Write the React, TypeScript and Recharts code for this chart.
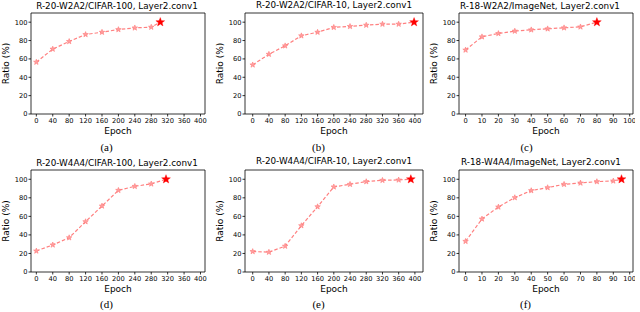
import React from 'react';
import { LineChart, Line, XAxis, YAxis, ReferenceArea, Label } from 'recharts';

const epochsA = [0, 40, 80, 120, 160, 200, 240, 280, 302];
const ratioA = [56.5, 70.7, 79, 86.6, 89.1, 92, 93.8, 94.6, 100];
const epochsB = [0, 40, 80, 120, 160, 200, 240, 280, 320, 360, 398];
const ratioB = [53.5, 65.1, 74.3, 85.2, 89.1, 94.4, 95.4, 96.8, 97.9, 97.9, 100];
const epochsC = [0, 10, 20, 30, 40, 50, 60, 70, 80];
const ratioC = [69.7, 84.1, 87.7, 90.3, 91.7, 92.8, 93.9, 94.9, 100];
const epochsD = [0, 40, 80, 120, 160, 200, 240, 280, 316];
const ratioD = [22.7, 29.2, 37, 54.3, 71.2, 88.1, 92.4, 95, 100];
const epochsE = [0, 40, 80, 120, 160, 200, 240, 280, 320, 360, 390];
const ratioE = [22.1, 21.4, 27.9, 50, 70.4, 91.8, 94.6, 97.5, 98.9, 99.3, 100];
const epochsF = [0, 10, 20, 30, 40, 50, 60, 70, 80, 90, 95];
const ratioF = [33.1, 57.2, 70.1, 80.2, 87.8, 91, 94.6, 96, 97.5, 98.2, 100];

const titles = [
  'R-20-W2A2/CIFAR-100, Layer2.conv1',
  'R-20-W2A2/CIFAR-10, Layer2.conv1',
  'R-18-W2A2/ImageNet, Layer2.conv1',
  'R-20-W4A4/CIFAR-100, Layer2.conv1',
  'R-20-W4A4/CIFAR-10, Layer2.conv1',
  'R-18-W4A4/ImageNet, Layer2.conv1',
];
const captions = ['(a)', '(b)', '(c)', '(d)', '(e)', '(f)'];

const epochTicks400 = [0, 40, 80, 120, 160, 200, 240, 280, 320, 360, 400];
const epochTicks100 = [0, 10, 20, 30, 40, 50, 60, 70, 80, 90, 100];
const ratioTicks = [0, 20, 40, 60, 80, 100];

const FONT = '"DejaVu Sans", sans-serif';

function starPath(cx: number, cy: number, R: number, r: number) {
  let d = '';
  for (let i = 0; i < 10; i++) {
    const rad = i % 2 === 0 ? R : r;
    const a = -Math.PI / 2 + (i * Math.PI) / 5;
    const px = cx + rad * Math.cos(a);
    const py = cy + rad * Math.sin(a);
    d += (i === 0 ? 'M' : 'L') + px.toFixed(2) + ',' + py.toFixed(2);
  }
  return d + 'Z';
}

const SmallStar = (props: any) => {
  const { cx, cy, index } = props;
  if (cx == null || cy == null) return <g key={'s' + index} />;
  return (
    <path key={'s' + index} d={starPath(cx, cy, 2.9, 1.2)} fill="#ff9f9f" stroke="#ff7a7a" strokeWidth={0.6} />
  );
};

const BigStar = (props: any) => {
  const { cx, cy, index, value } = props;
  if (cx == null || cy == null || value == null) return <g key={'b' + index} />;
  return <path key={'b' + index} d={starPath(cx, cy, 4.6, 1.9)} fill="#ff0000" stroke="#ff0000" strokeWidth={0.4} />;
};

type PanelProps = {
  epochs: number[];
  ratio: number[];
  xDomain: [number, number];
  xTicks: number[];
  frameLeft: number;
  frameTop: number;
  frameW: number;
  frameH: number;
  title: string;
  titleX: number;
  titleY: number;
  caption: string;
  captionX: number;
  captionY: number;
};

function Panel(p: PanelProps) {
  const data = p.epochs.map((x, i) => ({
    x,
    y: p.ratio[i],
    last: i === p.epochs.length - 1 ? p.ratio[i] : null,
  }));
  const yAxisW = 31;
  const xAxisH = 22;
  const mTop = 2;
  const mBottom = 4;
  const mRight = 2;
  return (
    <>
      <div style={{ position: 'absolute', left: p.frameLeft - yAxisW, top: p.frameTop - mTop }}>
        <LineChart
          width={yAxisW + p.frameW + mRight}
          height={p.frameH + xAxisH + mTop + mBottom}
          data={data}
          margin={{ top: mTop, right: mRight, left: 0, bottom: mBottom }}
        >
          <XAxis
            dataKey="x"
            type="number"
            domain={p.xDomain}
            ticks={p.xTicks}
            allowDataOverflow
            interval={0}
            height={xAxisH}
            axisLine={false}
            tickSize={2.5}
            tickMargin={1.5}
            tick={{ fontSize: 6.7, fill: '#000', fontFamily: FONT }}
            tickLine={{ stroke: '#000', strokeWidth: 0.8 }}
          >
            <Label
              value="Epoch"
              position="insideBottom"
              offset={2}
              style={{ fontSize: 9, fill: '#000', fontFamily: FONT }}
            />
          </XAxis>
          <YAxis
            type="number"
            domain={[0, 110]}
            ticks={ratioTicks}
            allowDataOverflow
            interval={0}
            width={yAxisW}
            axisLine={false}
            tickSize={2.5}
            tickMargin={1}
            tick={{ fontSize: 6.7, fill: '#000', fontFamily: FONT }}
            tickLine={{ stroke: '#000', strokeWidth: 0.8 }}
          >
            <Label
              value="Ratio (%)"
              angle={-90}
              position="insideLeft"
              offset={5.5}
              style={{ fontSize: 9, fill: '#000', fontFamily: FONT, textAnchor: 'middle' }}
            />
          </YAxis>
          <ReferenceArea
            x1={p.xDomain[0]}
            x2={p.xDomain[1]}
            y1={0}
            y2={110}
            fill="none"
            fillOpacity={0}
            stroke="#000"
            strokeWidth={0.8}
            ifOverflow="visible"
          />
          <Line
            dataKey="y"
            type="linear"
            stroke="#ff8080"
            strokeWidth={1.2}
            strokeDasharray="3.5 2"
            dot={SmallStar}
            activeDot={false}
            isAnimationActive={false}
          />
          <Line
            dataKey="last"
            type="linear"
            stroke="none"
            dot={BigStar}
            activeDot={false}
            connectNulls={false}
            isAnimationActive={false}
          />
        </LineChart>
      </div>
      <div
        style={{
          position: 'absolute',
          left: p.titleX,
          top: p.titleY,
          transform: 'translate(-50%, -50%)',
          fontFamily: FONT,
          fontSize: 8.8,
          lineHeight: 1,
          whiteSpace: 'nowrap',
          color: '#000',
        }}
      >
        {p.title}
      </div>
      <div
        style={{
          position: 'absolute',
          left: p.captionX,
          top: p.captionY,
          transform: 'translate(-50%, -50%)',
          fontFamily: '"Liberation Serif", serif',
          fontSize: 11,
          lineHeight: 1,
          whiteSpace: 'nowrap',
          color: '#000',
        }}
      >
        {p.caption}
      </div>
    </>
  );
}

export default function App() {
  const row1Top = 13;
  const row1H = 101;
  const row2Top = 170;
  const row2H = 102;
  return (
    <div style={{ position: 'absolute', left: 0, top: 0, width: 640, height: 312, background: '#fff', overflow: 'hidden' }}>
      <Panel epochs={epochsA} ratio={ratioA} xDomain={[-13, 411]} xTicks={epochTicks400}
        frameLeft={31} frameTop={row1Top} frameW={174} frameH={row1H}
        title={titles[0]} titleX={117} titleY={5.5} caption={captions[0]} captionX={106.5} captionY={146.5} />
      <Panel epochs={epochsB} ratio={ratioB} xDomain={[-19, 420]} xTicks={epochTicks400}
        frameLeft={245} frameTop={row1Top} frameW={178} frameH={row1H}
        title={titles[1]} titleX={334} titleY={4.5} caption={captions[1]} captionX={318.5} captionY={146.5} />
      <Panel epochs={epochsC} ratio={ratioC} xDomain={[-4, 102]} xTicks={epochTicks100}
        frameLeft={459} frameTop={row1Top} frameW={174} frameH={row1H}
        title={titles[2]} titleX={540} titleY={5.5} caption={captions[2]} captionX={526.5} captionY={146.5} />
      <Panel epochs={epochsD} ratio={ratioD} xDomain={[-13, 411]} xTicks={epochTicks400}
        frameLeft={31} frameTop={row2Top} frameW={174} frameH={row2H}
        title={titles[3]} titleX={117} titleY={162.5} caption={captions[3]} captionX={106.5} captionY={304} />
      <Panel epochs={epochsE} ratio={ratioE} xDomain={[-19, 420]} xTicks={epochTicks400}
        frameLeft={245} frameTop={row2Top} frameW={178} frameH={row2H}
        title={titles[4]} titleX={334} titleY={161} caption={captions[4]} captionX={318.5} captionY={304} />
      <Panel epochs={epochsF} ratio={ratioF} xDomain={[-4, 102]} xTicks={epochTicks100}
        frameLeft={459} frameTop={row2Top} frameW={174} frameH={row2H}
        title={titles[5]} titleX={541} titleY={161.5} caption={captions[5]} captionX={525.5} captionY={304} />
    </div>
  );
}
